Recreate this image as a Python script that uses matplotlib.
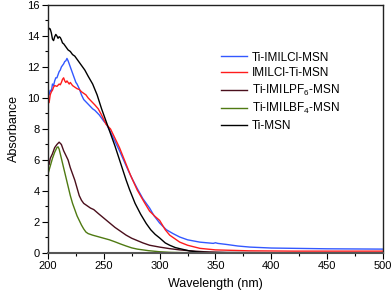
import matplotlib
matplotlib.use("Agg")
import matplotlib.pyplot as plt
from matplotlib.ticker import MultipleLocator

plt.rcParams['font.family'] = ['Liberation Sans', 'DejaVu Sans']
plt.rcParams['mathtext.fontset'] = 'custom'
plt.rcParams['mathtext.rm'] = 'Liberation Sans'

# Ti-IMILCl-MSN (blue)
wl_blue = [200, 201, 202, 203, 204, 205, 206, 207, 208, 209, 210, 211, 212, 213, 214, 215, 216, 217,
           218, 219, 220, 221, 222, 223, 224, 225, 226, 228, 230, 232, 234, 236, 238, 240, 242, 244,
           246, 248, 250, 252, 256, 260, 264, 268, 272, 276, 280, 285, 291, 295, 300, 306, 312, 318,
           325, 336, 345, 348, 350, 352, 360, 370, 381, 400, 450, 500]
abs_blue = [10.3, 10.2, 10.5, 10.4, 10.9, 10.8, 11.1, 11.3, 11.3, 11.5, 11.7, 11.8, 12.0, 12.1, 12.2,
            12.35, 12.4, 12.55, 12.4, 12.2, 12.0, 11.8, 11.6, 11.4, 11.2, 11.0, 10.9, 10.6, 10.2, 9.9,
            9.75, 9.6, 9.45, 9.3, 9.2, 9.05, 8.9, 8.7, 8.5, 8.35, 7.8, 7.2, 6.6, 5.95, 5.3, 4.7, 4.15,
            3.5, 2.9, 2.4, 1.93, 1.5, 1.25, 1.03, 0.85, 0.7, 0.64, 0.62, 0.66, 0.62, 0.55, 0.45, 0.38,
            0.32, 0.27, 0.25]

# IMILCl-Ti-MSN (red)
wl_red = [200, 201, 202, 203, 204, 205, 206, 208, 210, 211, 212, 213, 214, 215, 216, 217, 218, 219,
          220, 221, 222, 224, 226, 228, 230, 232, 234, 236, 238, 240, 242, 245, 248, 252, 256, 260,
          264, 269, 274, 280, 286, 291, 296, 300, 305, 309, 314, 318, 325, 336, 350, 380, 420, 500]
abs_red = [9.9, 9.7, 10.2, 10.4, 10.5, 10.7, 10.8, 10.75, 10.9, 10.85, 11.0, 11.2, 11.3, 11.1, 11.0,
           11.1, 11.0, 10.9, 11.0, 10.9, 10.8, 10.7, 10.6, 10.55, 10.4, 10.3, 10.2, 10.0, 9.85, 9.7,
           9.55, 9.3, 8.9, 8.3, 8.0, 7.4, 6.8, 5.9, 5.0, 4.05, 3.3, 2.7, 2.35, 2.1, 1.5, 1.15, 0.9,
           0.7, 0.5, 0.3, 0.2, 0.14, 0.12, 0.12]

# Ti-IMILPF6-MSN (dark brown)
wl_pf6 = [200, 201, 202, 204, 206, 208, 210, 212, 214, 216, 218, 220, 222, 224, 226, 228, 230, 232,
          235, 238, 241, 245, 250, 255, 260, 265, 270, 275, 280, 285, 291, 300, 309, 318, 327, 340,
          360, 400, 500]
abs_pf6 = [5.8, 5.7, 6.1, 6.4, 6.8, 7.0, 7.15, 7.0, 6.6, 6.3, 6.0, 5.5, 5.1, 4.7, 4.2, 3.7, 3.4, 3.2,
           3.05, 2.9, 2.8, 2.55, 2.25, 1.95, 1.65, 1.4, 1.15, 0.95, 0.8, 0.65, 0.5, 0.38, 0.28, 0.2,
           0.14, 0.08, 0.04, 0.02, 0.01]

# Ti-IMILBF4-MSN (green)
wl_bf4 = [200, 202, 204, 206, 208, 209, 210, 212, 214, 216, 218, 220, 222, 224, 226, 228, 230, 232,
          234, 236, 240, 245, 250, 255, 260, 265, 270, 275, 280, 290, 300, 310, 330, 500]
abs_bf4 = [5.1, 5.6, 6.1, 6.5, 6.8, 6.85, 6.7, 6.1, 5.5, 4.9, 4.3, 3.7, 3.2, 2.8, 2.4, 2.1, 1.8, 1.55,
           1.35, 1.25, 1.15, 1.05, 0.95, 0.85, 0.72, 0.58, 0.45, 0.33, 0.25, 0.15, 0.08, 0.04, 0.01, 0.0]

# Ti-MSN (black)
wl_ti = [200, 201, 202, 203, 204, 205, 206, 207, 208, 209, 210, 211, 212, 213, 214, 216, 218, 220,
         222, 224, 226, 228, 230, 233, 236, 240, 244, 248, 252, 256, 260, 265, 270, 273, 278, 283,
         288, 292, 296, 300, 305, 309, 314, 318, 327, 335, 345, 360, 500]
abs_ti = [14.3, 14.5, 14.45, 14.2, 13.8, 13.7, 13.95, 14.1, 14.0, 13.85, 13.95, 13.9, 13.75, 13.55,
          13.5, 13.3, 13.1, 13.0, 12.8, 12.7, 12.5, 12.3, 12.1, 11.8, 11.4, 10.9, 10.2, 9.3, 8.5, 7.7,
          6.9, 5.8, 4.7, 4.1, 3.2, 2.5, 1.9, 1.5, 1.2, 0.97, 0.65, 0.5, 0.35, 0.28, 0.13, 0.06, 0.02,
          0.0, 0.0]

series = [
    (wl_blue, abs_blue, '#3358ff', 'Ti-IMILCl-MSN'),
    (wl_red, abs_red, '#ff1c1c', 'IMILCl-Ti-MSN'),
    (wl_pf6, abs_pf6, '#4a0f1c', 'Ti-IMILPF$_6$-MSN'),
    (wl_bf4, abs_bf4, '#4f7a12', 'Ti-IMILBF$_4$-MSN'),
    (wl_ti, abs_ti, '#000000', 'Ti-MSN'),
]

fig = plt.figure(figsize=(3.92, 2.92), dpi=100)
ax = fig.add_axes([0.1224, 0.1336, 0.8546, 0.8494])

for wl, ab, col, lab in series:
    ax.plot(wl, ab, color=col, lw=1.0, label=lab)

ax.set_xlim(200, 500)
ax.set_ylim(0, 16)
ax.xaxis.set_major_locator(MultipleLocator(50))
ax.xaxis.set_minor_locator(MultipleLocator(25))
ax.yaxis.set_major_locator(MultipleLocator(2))
ax.yaxis.set_minor_locator(MultipleLocator(1))
ax.tick_params(which='major', direction='out', length=4, width=0.8, labelsize=8, pad=2)
ax.tick_params(which='minor', direction='out', length=2.5, width=0.8)

for s in ['top', 'right', 'left']:
    ax.spines[s].set_color('#222222')
    ax.spines[s].set_linewidth(1.0)
ax.spines['bottom'].set_color('#555555')
ax.spines['bottom'].set_linewidth(1.5)

ax.set_xlabel('Wavelength (nm)', fontsize=9, labelpad=5)
ax.set_ylabel('Absorbance', fontsize=9, labelpad=5)

ax.legend(loc='upper left', bbox_to_anchor=(0.485, 0.855), frameon=False, fontsize=8.5,
          handlelength=2.2, handletextpad=0.4, labelspacing=0.3)

fig.savefig('out.png', dpi=100)
